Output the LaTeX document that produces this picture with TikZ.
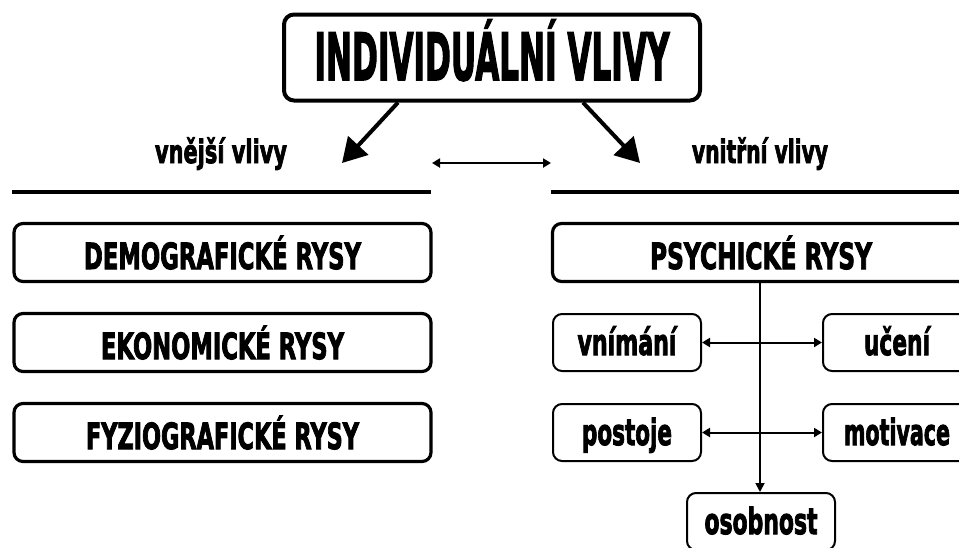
\documentclass[tikz,border=0pt]{standalone}
\usepackage{fontspec}
\usepackage{graphicx}
\usetikzlibrary{arrows.meta}
\newfontfamily\imp{DejaVu Sans}[BoldFeatures={FakeBold=3}]

% squeeze a text horizontally to a given width (in pt)
\newsavebox\fitbox
\newcommand\fitw[2]{\sbox\fitbox{#2}\pgfmathsetmacro\fitr{#1/\the\wd\fitbox}\scalebox{\fitr}[1]{\usebox\fitbox}}

\newcommand\titlefont{\imp\bfseries\fontsize{65}{65}\selectfont}
\newcommand\capfont{\imp\bfseries\fontsize{36}{36}\selectfont}
\newcommand\lowfont{\imp\bfseries\fontsize{36}{36}\selectfont}
\newcommand\headfont{\imp\bfseries\fontsize{32}{32}\selectfont}

\tikzset{
  titlebox/.style={draw, rounded corners=10pt, line width=4pt, minimum width=416pt,
    minimum height=86pt, inner sep=0pt, text height=45pt, text depth=0pt, font=\titlefont},
  bigbox/.style={draw, rounded corners=9pt, line width=3.2pt, minimum width=417pt,
    minimum height=58pt, inner sep=0pt, text height=33pt, text depth=0pt, font=\capfont},
  smallbox/.style={draw, rounded corners=9pt, line width=2pt, minimum width=148pt,
    minimum height=57pt, inner sep=0pt, text height=25pt, text depth=0pt, font=\lowfont},
  head/.style={anchor=base, inner sep=0pt, font=\headfont},
  rule/.style={line width=3.6pt},
  bigarrow/.style={line width=4pt, -{Triangle[length=24pt,width=27pt]}},
  thinarrow/.style={line width=2pt, {Triangle[length=8pt,width=9pt]}-{Triangle[length=8pt,width=9pt]}},
  downarrow/.style={line width=1.8pt, -{Triangle[length=9pt,width=9pt]}}
}

\begin{document}
\begin{tikzpicture}[x=1pt,y=-1pt]
\clip (0,0) rectangle (959,547);
\fill[white] (0,0) rectangle (959,547);

% top box
\node[titlebox] (top) at (492,57.5) {\fitw{355}{INDIVIDUÁLNÍ VLIVY}};

% side headings
\node[head] (hl) at (221,163) {\fitw{132}{vnější vlivy}};
\node[head] (hr) at (760,163) {\fitw{136}{vnitřní vlivy}};

% arrows from the top box
\path (top.south) ++(-94,0) coordinate (al0);
\path (top.south) ++(91,0) coordinate (ar0);
\coordinate (al1) at (342,163);
\coordinate (ar1) at (640,163);
\draw[bigarrow] (al0) -- (al1);
\draw[bigarrow] (ar0) -- (ar1);

% double arrow between the two sides
\coordinate (mA) at (432,163);
\coordinate (mB) at (551,163);
\draw[thinarrow] (mA) -- (mB);

% rules under the headings
\coordinate (rl0) at (12,192);
\coordinate (rl1) at (431,192);
\coordinate (rr0) at (551,192);
\coordinate (rr1) at (960,192);
\draw[rule] (rl0) -- (rl1);
\draw[rule] (rr0) -- (rr1);

% external influences
\node[bigbox] (demo) at (222.5,252.5) {\fitw{277}{DEMOGRAFICKÉ RYSY}};
\node[bigbox] (eko)  at (222.5,342.5) {\fitw{243}{EKONOMICKÉ RYSY}};
\node[bigbox] (fyz)  at (222.5,432.5) {\fitw{273}{FYZIOGRAFICKÉ RYSY}};

% internal influences
\node[bigbox] (psy) at (761,252.5) {\fitw{222}{PSYCHICKÉ RYSY}};
\node[smallbox] (vni) at (627,342.5) {\fitw{99}{vnímání}};
\node[smallbox] (uce) at (897,342.5) {\fitw{66}{učení}};
\node[smallbox] (pos) at (627,432.5) {\fitw{90}{postoje}};
\node[smallbox] (mot) at (897,432.5) {\fitw{106}{motivace}};
\node[smallbox] (oso) at (761,521.5) {\fitw{113}{osobnost}};

\draw[downarrow] ([xshift=-1pt]psy.south) -- ([xshift=-1pt]oso.north);
\draw[thinarrow] (vni.east) -- (uce.west);
\draw[thinarrow] (pos.east) -- (mot.west);
\end{tikzpicture}
\end{document}
